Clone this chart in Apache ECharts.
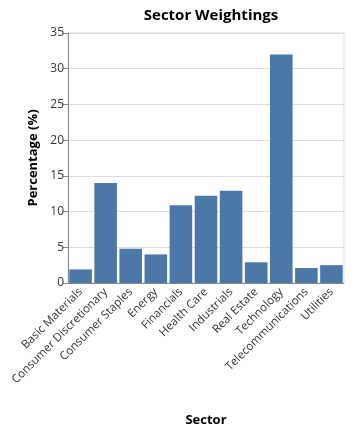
<!DOCTYPE html>
<html><head><meta charset="utf-8">
<script src="https://cdn.jsdelivr.net/npm/echarts@6/dist/echarts.min.js"></script>
<style>html,body{margin:0;padding:0;background:#fff}#c{width:361px;height:433px}</style>
</head><body><div id="c"></div>
<script>
const categories = ["Basic Materials","Consumer Discretionary","Consumer Staples","Energy","Financials","Health Care","Industrials","Real Estate","Technology","Telecommunications","Utilities"];
const percentages = [1.9, 14.0, 4.8, 4.0, 10.9, 12.2, 12.9, 2.9, 32.0, 2.1, 2.5];
const yTicks = {min: 0, max: 35, interval: 5};
const titleText = "Sector Weightings";
const xName = "Sector";
const yName = "Percentage (%)";

const font = "'Open Sans', 'Noto Sans', sans-serif";
const chart = echarts.init(document.getElementById('c'), null, {renderer: 'canvas'});
chart.setOption({
  animation: false,
  title: {text: titleText, left: 206, top: 3, textAlign: 'center',
    textStyle: {fontFamily: font, fontSize: 15, fontWeight: 'bold', color: '#000'}},
  grid: {left: 68, right: 17, top: 33, bottom: 150, show: true, borderColor: '#ddd', borderWidth: 1},
  xAxis: {
    type: 'category', data: categories,
    name: xName, nameLocation: 'middle', nameGap: 131,
    nameTextStyle: {fontFamily: font, fontSize: 13, fontWeight: 'bold', color: '#000'},
    axisLine: {lineStyle: {color: '#888'}},
    axisTick: {alignWithLabel: true, length: 5, lineStyle: {color: '#888'}},
    axisLabel: {rotate: 45, interval: 0, fontFamily: font, fontSize: 11.5, color: '#333', margin: 7},
    splitLine: {show: false}
  },
  yAxis: {
    type: 'value', min: yTicks.min, max: yTicks.max, interval: yTicks.interval,
    name: yName, nameLocation: 'middle', nameGap: 28,
    nameTextStyle: {fontFamily: font, fontSize: 13, fontWeight: 'bold', color: '#000'},
    axisLine: {show: true, lineStyle: {color: '#888'}},
    axisTick: {show: true, length: 5, lineStyle: {color: '#888'}},
    axisLabel: {fontFamily: font, fontSize: 12, color: '#333', margin: 4},
    splitLine: {lineStyle: {color: '#ddd'}}
  },
  series: [{
    type: 'bar', data: percentages, barCategoryGap: '10%',
    itemStyle: {color: '#4c78a8'}
  }]
});
</script></body></html>
